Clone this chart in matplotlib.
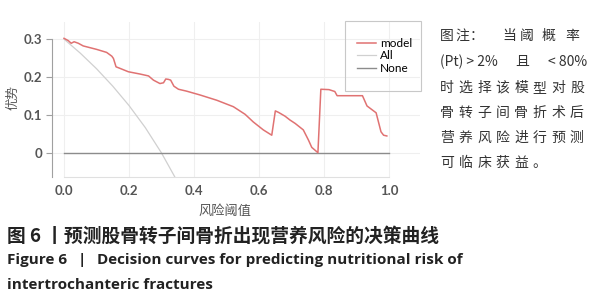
import matplotlib.pyplot as plt
from matplotlib.patches import Rectangle

# model curve
model_x = [0.0, 0.013, 0.022, 0.031, 0.044, 0.059, 0.10, 0.131, 0.147, 0.152, 0.16, 0.172,
           0.198, 0.234, 0.26, 0.275, 0.295, 0.306, 0.313, 0.321, 0.328, 0.338, 0.352,
           0.377, 0.418, 0.47, 0.521, 0.557, 0.582, 0.613, 0.639, 0.65, 0.66, 0.68,
           0.695, 0.711, 0.736, 0.752, 0.762, 0.781, 0.79, 0.815, 0.833, 0.84, 0.918,
           0.932, 0.96, 0.975, 0.983, 0.993]
model_y = [0.302, 0.296, 0.289, 0.293, 0.289, 0.282, 0.273, 0.265, 0.255, 0.249, 0.227, 0.223,
           0.214, 0.208, 0.203, 0.192, 0.183, 0.185, 0.195, 0.194, 0.192, 0.176, 0.168,
           0.163, 0.153, 0.139, 0.122, 0.102, 0.082, 0.061, 0.047, 0.111, 0.107, 0.097,
           0.087, 0.078, 0.061, 0.034, 0.015, 0.001, 0.168, 0.167, 0.162, 0.151, 0.151,
           0.124, 0.106, 0.056, 0.047, 0.045]

# treat-all curve
all_x = [0.0, 0.05, 0.1, 0.15, 0.2, 0.25, 0.3, 0.35]
all_y = [0.3, 0.263, 0.222, 0.176, 0.125, 0.067, 0.0, -0.077]

# treat-none
none_x = [0.0, 1.0]
none_y = [0.0, 0.0]

xticks = [0.0, 0.2, 0.4, 0.6, 0.8, 1.0]
xtick_labels = ['0.0', '0.2', '0.4', '0.6', '0.8', '1.0']
yticks = [0.0, 0.1, 0.2, 0.3]
ytick_labels = ['0', '0.1', '0.2', '0.3']

note_line1 = ['图', '注', '：', '当', '阈', '概', '率']
note_line2 = ['(Pt) > 2%', '且', '< 80%']
note_rest = ['时选择该模型对股', '骨转子间骨折术后', '营养风险进行预测', '可临床获益。']
caption_cn = '图 6 丨预测股骨转子间骨折出现营养风险的决策曲线'
caption_en = ['Figure 6', '|', 'Decision curves for predicting nutritional risk of',
              'intertrochanteric fractures']

W, H = 597, 300
fig = plt.figure(figsize=(W / 100, H / 100), dpi=100)
ax = fig.add_axes([52 / W, 1 - 177 / H, (420 - 52) / W, (177 - 22) / H])
ax.set_xlim(-0.037, 1.095)
ax.set_ylim(-0.063, 0.345)

ax.plot(all_x, all_y, color='#d0d0d0', lw=0.9, label='All')
ax.plot(none_x, none_y, color='#8c8c8c', lw=1.0, label='None')
ax.plot(model_x, model_y, color='#e07272', lw=1.1, label='model')

ax.set_xticks(xticks)
ax.set_xticklabels(xtick_labels)
ax.set_yticks(yticks)
ax.set_yticklabels(ytick_labels)
ax.grid(True, color='#efefef', lw=0.8)
ax.set_axisbelow(True)

for s in ['top', 'right']:
    ax.spines[s].set_visible(False)
ax.spines['left'].set_color('#a0a0a0')
ax.spines['left'].set_bounds(-0.063, 0.3)
ax.spines['bottom'].set_color('#e0e0e0')
ax.spines['bottom'].set_bounds(0.0, 1.0)
ax.tick_params(axis='y', length=4, color='#a0a0a0', pad=3)
ax.tick_params(axis='x', length=0, pad=6)
for lab in ax.get_xticklabels() + ax.get_yticklabels():
    lab.set_family('Lato')
    lab.set_fontweight('bold')
    lab.set_fontsize(9.5)
    lab.set_color('#555555')

cjk = ['Noto Sans CJK SC', 'DejaVu Sans']
fig.text(13 / W, 1 - 98 / H, '优势', rotation=90, ha='center', va='center',
         family=cjk, fontsize=9, color='#555555')
fig.text(225 / W, 1 - 211 / H, '风险阈值', ha='center', va='center',
         family=cjk, fontsize=9.5, color='#555555')

# legend
handles, labels = ax.get_legend_handles_labels()
order = [2, 0, 1]
ax.legend([handles[i] for i in order], [labels[i] for i in order],
          loc='upper left', bbox_to_anchor=(351 / W, 1 - 32 / H),
          bbox_transform=fig.transFigure, frameon=False,
          handlelength=1.6, handletextpad=0.35, borderpad=0, labelspacing=0.12,
          prop={'family': 'Lato', 'size': 8.5})
fig.patches.append(Rectangle((345 / W, 1 - 91 / H), 76 / W, 70 / H,
                             transform=fig.transFigure, fill=False,
                             edgecolor='#c8c8c8', lw=0.8))

# note text on the right
note_kw = dict(va='center', family=cjk, fontsize=10, color='#333333')
line1_x = [440, 455, 470, 502, 520, 542, 565]
for c, x in zip(note_line1, line1_x):
    fig.text(x / W, 1 - 36 / H, c, ha='left', **note_kw)
fig.text(440 / W, 1 - 62 / H, note_line2[0], ha='left', **note_kw)
fig.text(515 / W, 1 - 62 / H, note_line2[1], ha='left', **note_kw)
fig.text(587 / W, 1 - 62 / H, note_line2[2], ha='right', **note_kw)
pitch = (570 - 440) / 7
rest_y = [88, 113, 138, 163]
for line, y in zip(note_rest, rest_y):
    for j, c in enumerate(line):
        fig.text((440 + j * pitch) / W, 1 - y / H, c, ha='left', **note_kw)

# captions
fig.text(7 / W, 1 - 236 / H, caption_cn, ha='left', va='center', family=cjk,
         fontsize=13.5, fontweight='bold', color='#222222')
en_kw = dict(ha='left', va='center', family='Open Sans', fontsize=11,
             fontweight='bold', color='#222222')
fig.text(7 / W, 1 - 260 / H, caption_en[0], **en_kw)
fig.text(78 / W, 1 - 260 / H, caption_en[1], **en_kw)
fig.text(97 / W, 1 - 260 / H, caption_en[2], **en_kw)
fig.text(7 / W, 1 - 285 / H, caption_en[3], **en_kw)

fig.savefig('out.png', dpi=100)
